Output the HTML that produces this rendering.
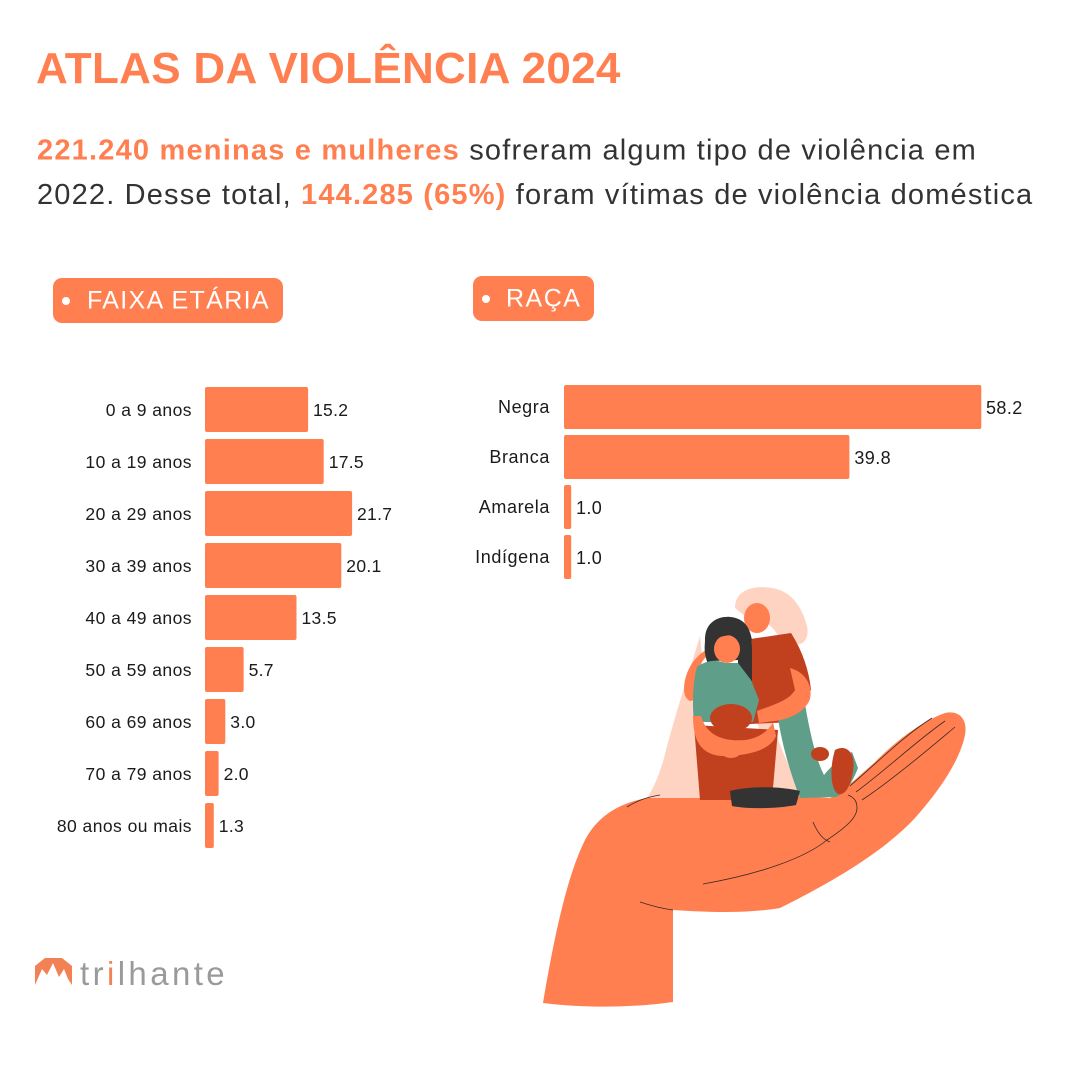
<!DOCTYPE html>
<html>
<head>
<meta charset="utf-8">
<style>
  html,body{margin:0;padding:0;background:#fff;}
  svg{display:block;}
  text{font-family:"Liberation Sans", Arial, sans-serif;}
</style>
</head>
<body>
<svg width="1080" height="1080" viewBox="0 0 1080 1080" xmlns="http://www.w3.org/2000/svg">
  <rect width="1080" height="1080" fill="#ffffff"/>

  <!-- Title -->
  <text x="36" y="83" font-size="44" font-weight="bold" fill="#FF7F50" letter-spacing="0.3">ATLAS DA VIOLÊNCIA 2024</text>

  <!-- Subtitle -->
  <text x="37" y="159.5" font-size="29" fill="#333333" letter-spacing="1.2"><tspan font-weight="bold" fill="#FF7F50">221.240 meninas e mulheres</tspan> sofreram algum tipo de violência em</text>
  <text x="37" y="204" font-size="29" fill="#333333" letter-spacing="1.17">2022. Desse total, <tspan font-weight="bold" fill="#FF7F50">144.285 (65%)</tspan> foram vítimas de violência doméstica</text>

  <!-- Pills -->
  <rect x="53" y="278" width="230" height="45" rx="9" fill="#FF7F50"/>
  <circle cx="66" cy="301" r="4" fill="#ffffff"/>
  <text x="87" y="308.5" font-size="25" fill="#ffffff" letter-spacing="1.35">FAIXA ETÁRIA</text>

  <rect x="473" y="276" width="121" height="45" rx="9" fill="#FF7F50"/>
  <circle cx="486" cy="299" r="4" fill="#ffffff"/>
  <text x="506" y="306.5" font-size="25" fill="#ffffff" letter-spacing="1.5">RAÇA</text>

  <!-- Age bars -->
  <g fill="#FF7F50">
    <rect x="205" y="387" width="103.1" height="45" rx="2"/>
    <rect x="205" y="439" width="118.7" height="45" rx="2"/>
    <rect x="205" y="491" width="147.1" height="45" rx="2"/>
    <rect x="205" y="543" width="136.3" height="45" rx="2"/>
    <rect x="205" y="595" width="91.5" height="45" rx="2"/>
    <rect x="205" y="647" width="38.6" height="45" rx="2"/>
    <rect x="205" y="699" width="20.3" height="45" rx="2"/>
    <rect x="205" y="751" width="13.6" height="45" rx="2"/>
    <rect x="205" y="803" width="8.8" height="45" rx="2"/>
  </g>
  <g font-size="17.5" fill="#1b1b1b" text-anchor="end" letter-spacing="0.45">
    <text x="192" y="416">0 a 9 anos</text>
    <text x="192" y="468">10 a 19 anos</text>
    <text x="192" y="520">20 a 29 anos</text>
    <text x="192" y="572">30 a 39 anos</text>
    <text x="192" y="624">40 a 49 anos</text>
    <text x="192" y="676">50 a 59 anos</text>
    <text x="192" y="728">60 a 69 anos</text>
    <text x="192" y="780">70 a 79 anos</text>
    <text x="192" y="832">80 anos ou mais</text>
  </g>
  <g font-size="17.5" fill="#1b1b1b" letter-spacing="0.3">
    <text x="313" y="416">15.2</text>
    <text x="328.7" y="468">17.5</text>
    <text x="357" y="520">21.7</text>
    <text x="346.3" y="572">20.1</text>
    <text x="301.5" y="624">13.5</text>
    <text x="248.6" y="676">5.7</text>
    <text x="230.3" y="728">3.0</text>
    <text x="223.6" y="780">2.0</text>
    <text x="218.8" y="832">1.3</text>
  </g>

  <!-- Race bars -->
  <g fill="#FF7F50">
    <rect x="564" y="385" width="417.3" height="44" rx="2"/>
    <rect x="564" y="435" width="285.4" height="44" rx="2"/>
    <rect x="564" y="485" width="7.2" height="44" rx="2"/>
    <rect x="564" y="535" width="7.2" height="44" rx="2"/>
  </g>
  <g font-size="18" fill="#1b1b1b" text-anchor="end" letter-spacing="0.6">
    <text x="550" y="413">Negra</text>
    <text x="550" y="463">Branca</text>
    <text x="550" y="513">Amarela</text>
    <text x="550" y="563">Indígena</text>
  </g>
  <g font-size="18" fill="#1b1b1b" letter-spacing="0.4">
    <text x="986" y="414">58.2</text>
    <text x="854.4" y="464">39.8</text>
    <text x="576" y="514">1.0</text>
    <text x="576" y="564">1.0</text>
  </g>

  <!-- Illustration: hand -->
  <path d="M543,1003 C552,950 565,880 585,840 C600,812 625,800 660,796 C700,793 780,795 830,798 C845,790 860,775 875,762 C895,742 920,722 945,713 C958,710 968,718 965,735 C960,760 940,790 915,818 C885,850 840,878 780,908 C745,914 705,912 673,910 L673,1002 C630,1008 585,1008 543,1003 Z" fill="#FF7F50"/>

  <!-- Women -->
  <path d="M700,636 C688,676 674,718 664,758 C659,776 653,789 647,798 L702,798 L702,656 Z" fill="#FFD3C2"/>
  <path d="M748,686 L762,686 C772,728 787,768 806,796 L776,798 C768,760 757,722 748,686 Z" fill="#FFD3C2"/>
  <path d="M735,608 C735,589 755,585 772,588 C793,591 803,610 807,626 C810,639 802,648 792,643 L781,642 C776,627 762,617 746,617 Z" fill="#FFD3C2"/>
  <path d="M744,640 L791,633 C802,650 809,670 811,690 L803,701 L793,722 L750,724 Z" fill="#C1411F"/>
  <ellipse cx="757" cy="618" rx="13" ry="15" fill="#FF7F50"/>
  <path d="M777,712 L805,704 C810,734 817,762 824,775 C832,765 843,756 852,752 L858,768 C852,783 846,793 836,797 L800,798 C789,770 781,740 777,712 Z" fill="#5F9E89"/>
  <path d="M835,750 C846,744 856,752 853,771 C851,786 845,796 838,794 C831,790 829,769 835,750 Z" fill="#C1411F"/>
  <ellipse cx="820" cy="754" rx="9" ry="7" fill="#C1411F"/>
  <path d="M712,647 C698,653 689,664 685,680 C683,690 684,698 690,701 L698,699 L698,672 C701,661 706,655 716,650 Z" fill="#FF7F50"/>
  <path d="M705,642 C704,624 716,616 730,617 C745,619 752,633 752,650 L752,681 L738,683 L738,660 L712,661 L708,664 C705,656 704,650 705,642 Z" fill="#333333"/>
  <ellipse cx="727" cy="649" rx="13" ry="14" fill="#FF7F50"/>
  <path d="M705,645 C704,626 716,616 730,617 C742,618 750,625 752,641 C740,633 722,632 705,645 Z" fill="#333333"/>
  <path d="M697,667 C705,661 715,659 725,663 L738,663 L751,680 L759,700 L753,722 L694,722 C692,702 693,681 697,667 Z" fill="#5F9E89"/>
  <path d="M694,725 L700,800 L772,800 L778,730 Z" fill="#C1411F"/>
  <ellipse cx="731" cy="718" rx="21" ry="14" fill="#C1411F"/>
  <path d="M790,668 C805,672 813,685 810,699 C805,712 790,719 775,721 L759,723 L757,711 C770,706 789,701 795,690 Z" fill="#FF7F50"/>
  <path d="M693,716 L701,716 C706,734 721,742 745,740 C760,738 769,730 773,722 L776,736 C770,751 746,756 721,756 C701,754 693,741 693,716 Z" fill="#FF7F50"/>
  <ellipse cx="731" cy="751" rx="10" ry="7" fill="#FF7F50"/>
  <path d="M730,791 C750,786 780,786 800,791 L796,805 C776,809 746,809 732,806 Z" fill="#333333"/>

  <!-- hand lines -->
  <g fill="none" stroke="#3a2a22" stroke-width="0.8">
    <path d="M703,884 C760,874 805,858 827,840 C845,828 857,818 857,808 C857,800 853,797 848,795"/>
    <path d="M813,822 C818,834 824,840 830,842"/>
    <path d="M627,807 C638,800 648,797 660,795"/>
    <path d="M640,902 C655,907 665,909 673,910"/>
    <path d="M850,786 C880,760 905,735 932,718"/>
    <path d="M856,792 C886,770 915,742 945,721"/>
    <path d="M862,800 C892,780 925,752 955,727"/>
  </g>

  <!-- Logo -->
  <path d="M35,985 L35,966 L45,958 L62,958 L72,966 L72,985 L68,979 L64,969 L59,977 L53,963 L47,975 L42,969 Z" fill="#F28155"/>
  <text x="80" y="985" font-size="33" fill="#9a9a9a" letter-spacing="3.4">tr<tspan fill="#F28155">i</tspan>lhante</text>
</svg>
</body>
</html>
